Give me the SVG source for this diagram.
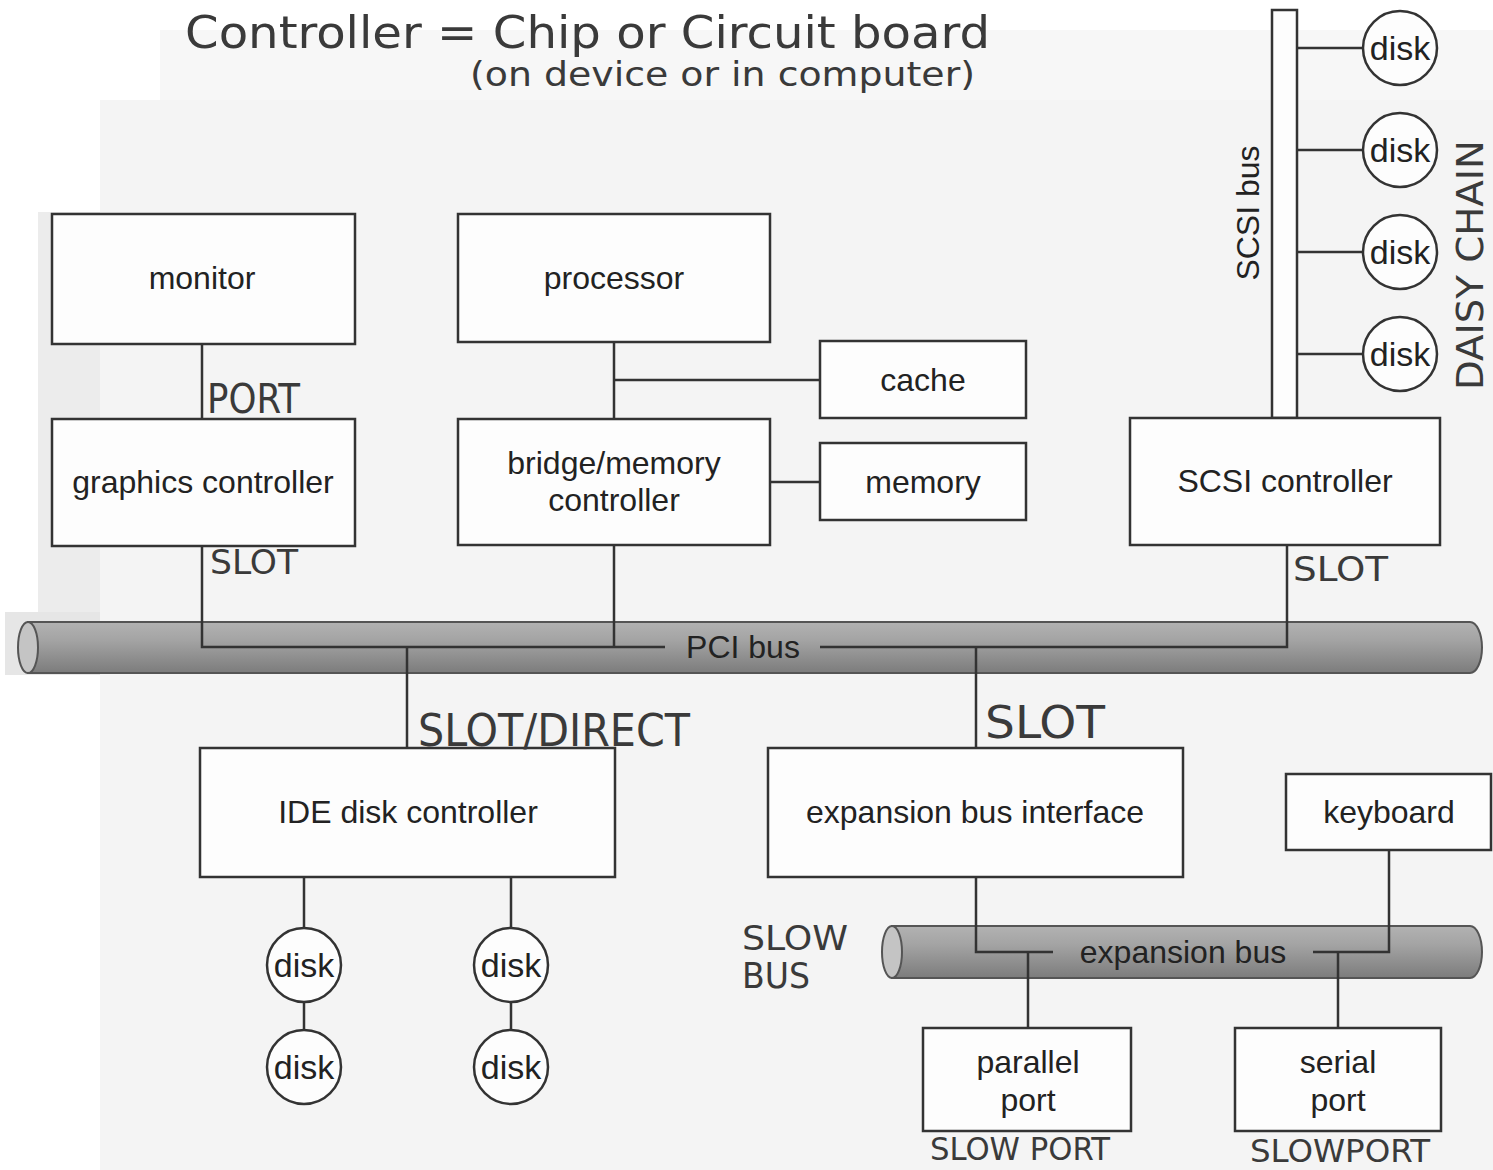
<svg xmlns="http://www.w3.org/2000/svg" width="1493" height="1170" viewBox="0 0 1493 1170">
<style>
.box{fill:#fdfdfd;stroke:#333;stroke-width:2.5}
.disk{fill:#fdfdfd;stroke:#333;stroke-width:2.5}
.ln{fill:none;stroke:#333;stroke-width:2.5}
.t{font-family:"Liberation Sans",Arial,sans-serif;font-size:32px;fill:#222;text-anchor:middle}
.dt{font-family:"Liberation Sans",Arial,sans-serif;font-size:34px;fill:#222;text-anchor:middle}
.hw{font-family:"Liberation Sans Narrow","DejaVu Sans Condensed",sans-serif;fill:#3a3a3a;font-weight:normal}
</style>
<defs>
<linearGradient id="busg" x1="0" y1="0" x2="0" y2="1">
<stop offset="0" stop-color="#b2b2b2"/>
<stop offset="0.35" stop-color="#a4a4a4"/>
<stop offset="1" stop-color="#7c7c7c"/>
</linearGradient>
</defs>
<rect x="0" y="0" width="1493" height="1170" fill="#ffffff"/>
<rect x="100" y="100" width="1393" height="1070" fill="#f4f4f4"/>
<rect x="160" y="30" width="1333" height="70" fill="#f7f7f7"/>
<rect x="38" y="212" width="62" height="400" fill="#ececec"/>
<rect x="5" y="612" width="95" height="63" fill="#e6e6e6"/>

<g id="pci-bus">
<path d="M28,622 L1470,622 A12,25.5 0 0 1 1470,673 L28,673 Z" fill="url(#busg)" stroke="#555" stroke-width="2"/>
<ellipse cx="28" cy="647.5" rx="10" ry="25.5" fill="#c4c4c4" stroke="#555" stroke-width="2"/>
<text class="t" x="743" y="658">PCI bus</text>
</g>
<g id="expansion-bus">
<path d="M892,926 L1470,926 A12,26 0 0 1 1470,978 L892,978 Z" fill="url(#busg)" stroke="#555" stroke-width="2"/>
<ellipse cx="892" cy="952" rx="10" ry="26" fill="#c4c4c4" stroke="#555" stroke-width="2"/>
<text class="t" x="1183" y="963">expansion bus</text>
</g>

<g id="connectors">
<line class="ln" x1="202" y1="344" x2="202" y2="419"/>
<line class="ln" x1="614" y1="342" x2="614" y2="419"/>
<line class="ln" x1="614" y1="380" x2="820" y2="380"/>
<line class="ln" x1="770" y1="482" x2="820" y2="482"/>
<polyline class="ln" points="202,546 202,647 665,647"/>
<line class="ln" x1="614" y1="545" x2="614" y2="647"/>
<polyline class="ln" points="820,647 1287,647 1287,545"/>
<line class="ln" x1="407" y1="647" x2="407" y2="748"/>
<line class="ln" x1="976" y1="647" x2="976" y2="748"/>
<line class="ln" x1="304" y1="877" x2="304" y2="928"/>
<line class="ln" x1="511" y1="877" x2="511" y2="928"/>
<line class="ln" x1="304" y1="1002" x2="304" y2="1030"/>
<line class="ln" x1="511" y1="1002" x2="511" y2="1030"/>
<polyline class="ln" points="976,877 976,952 1053,952"/>
<line class="ln" x1="1028" y1="952" x2="1028" y2="1028"/>
<polyline class="ln" points="1313,952 1389,952 1389,850"/>
<line class="ln" x1="1338" y1="952" x2="1338" y2="1028"/>
<line class="ln" x1="1297" y1="48" x2="1362" y2="48"/>
<line class="ln" x1="1297" y1="150" x2="1362" y2="150"/>
<line class="ln" x1="1297" y1="252" x2="1362" y2="252"/>
<line class="ln" x1="1297" y1="354" x2="1362" y2="354"/>
</g>

<g id="scsi-bus">
<rect x="1272" y="10" width="25" height="408" fill="#fdfdfd" stroke="#333" stroke-width="2.5"/>
<text class="t" transform="translate(1259,213) rotate(-90)" x="0" y="0">SCSI bus</text>
</g>

<g id="monitor"><rect class="box" x="52" y="214" width="303" height="130"/><text class="t" x="202" y="289">monitor</text></g>
<g id="processor"><rect class="box" x="458" y="214" width="312" height="128"/><text class="t" x="614" y="289">processor</text></g>
<g id="cache"><rect class="box" x="820" y="341" width="206" height="77"/><text class="t" x="923" y="391">cache</text></g>
<g id="graphics-controller"><rect class="box" x="52" y="419" width="303" height="127"/><text class="t" x="203" y="493">graphics controller</text></g>
<g id="bridge-memory-controller"><rect class="box" x="458" y="419" width="312" height="126"/><text class="t" x="614" y="474">bridge/memory</text><text class="t" x="614" y="511">controller</text></g>
<g id="memory"><rect class="box" x="820" y="443" width="206" height="77"/><text class="t" x="923" y="493">memory</text></g>
<g id="scsi-controller"><rect class="box" x="1130" y="418" width="310" height="127"/><text class="t" x="1285" y="492">SCSI controller</text></g>
<g id="ide-disk-controller"><rect class="box" x="200" y="748" width="415" height="129"/><text class="t" x="408" y="823">IDE disk controller</text></g>
<g id="expansion-bus-interface"><rect class="box" x="768" y="748" width="415" height="129"/><text class="t" x="975" y="823">expansion bus interface</text></g>
<g id="keyboard"><rect class="box" x="1286" y="774" width="205" height="76"/><text class="t" x="1389" y="823">keyboard</text></g>
<g id="parallel-port"><rect class="box" x="923" y="1028" width="208" height="103"/><text class="t" x="1028" y="1073">parallel</text><text class="t" x="1028" y="1111">port</text></g>
<g id="serial-port"><rect class="box" x="1235" y="1028" width="206" height="103"/><text class="t" x="1338" y="1073">serial</text><text class="t" x="1338" y="1111">port</text></g>

<g id="scsi-disk-1"><circle class="disk" cx="1400" cy="48" r="37"/><text class="dt" x="1400" y="60">disk</text></g>
<g id="scsi-disk-2"><circle class="disk" cx="1400" cy="150" r="37"/><text class="dt" x="1400" y="162">disk</text></g>
<g id="scsi-disk-3"><circle class="disk" cx="1400" cy="252" r="37"/><text class="dt" x="1400" y="264">disk</text></g>
<g id="scsi-disk-4"><circle class="disk" cx="1400" cy="354" r="37"/><text class="dt" x="1400" y="366">disk</text></g>
<g id="ide-disk-1"><circle class="disk" cx="304" cy="965" r="37"/><text class="dt" x="304" y="977">disk</text></g>
<g id="ide-disk-2"><circle class="disk" cx="511" cy="965" r="37"/><text class="dt" x="511" y="977">disk</text></g>
<g id="ide-disk-3"><circle class="disk" cx="304" cy="1067" r="37"/><text class="dt" x="304" y="1079">disk</text></g>
<g id="ide-disk-4"><circle class="disk" cx="511" cy="1067" r="37"/><text class="dt" x="511" y="1079">disk</text></g>

<g id="annotations">
<text class="hw" x="185" y="48" font-size="44" textLength="805" lengthAdjust="spacingAndGlyphs">Controller = Chip or Circuit board</text>
<text class="hw" x="470" y="86" font-size="34" textLength="505" lengthAdjust="spacingAndGlyphs">(on device or in computer)</text>
<text class="hw" x="207" y="413" font-size="40" textLength="93" lengthAdjust="spacingAndGlyphs">PORT</text>
<text class="hw" x="210" y="574" font-size="34" textLength="88" lengthAdjust="spacingAndGlyphs">SLOT</text>
<text class="hw" x="1293" y="581" font-size="34" textLength="95" lengthAdjust="spacingAndGlyphs">SLOT</text>
<text class="hw" x="418" y="746" font-size="44" textLength="272" lengthAdjust="spacingAndGlyphs">SLOT/DIRECT</text>
<text class="hw" x="985" y="738" font-size="44" textLength="120" lengthAdjust="spacingAndGlyphs">SLOT</text>
<text class="hw" x="742" y="950" font-size="34" textLength="106" lengthAdjust="spacingAndGlyphs">SLOW</text>
<text class="hw" x="742" y="988" font-size="36" textLength="68" lengthAdjust="spacingAndGlyphs">BUS</text>
<text class="hw" x="930" y="1160" font-size="32" textLength="180" lengthAdjust="spacingAndGlyphs">SLOW PORT</text>
<text class="hw" x="1250" y="1162" font-size="32" textLength="180" lengthAdjust="spacingAndGlyphs">SLOWPORT</text>
<text class="hw" transform="translate(1483,265) rotate(-90)" x="0" y="0" font-size="38" text-anchor="middle" textLength="250" lengthAdjust="spacingAndGlyphs">DAISY CHAIN</text>
</g>
</svg>
